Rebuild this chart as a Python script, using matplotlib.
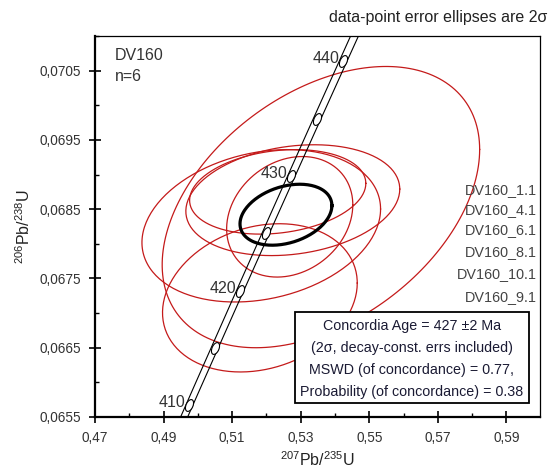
import numpy as np
import matplotlib
matplotlib.use('Agg')
import matplotlib.pyplot as plt
from matplotlib.path import Path
from matplotlib.patches import Rectangle
from matplotlib.ticker import MultipleLocator, FuncFormatter

plt.rcParams['font.family'] = ['Liberation Sans', 'DejaVu Sans']
plt.rcParams['mathtext.fontset'] = 'custom'
plt.rcParams['mathtext.rm'] = 'Liberation Sans'
plt.rcParams['mathtext.it'] = 'Liberation Sans:italic'
plt.rcParams['mathtext.bf'] = 'Liberation Sans:bold'

# spots: 207Pb/235U, 206Pb/238U, 2s half widths, error correlation
spot_names = ['DV160_1.1', 'DV160_4.1', 'DV160_6.1', 'DV160_8.1', 'DV160_10.1', 'DV160_9.1']
x_center = [0.5359, 0.5185, 0.5277, 0.5233, 0.5268, 0.5181]
x_err = [0.0463, 0.0348, 0.0312, 0.0257, 0.0184, 0.0284]
y_center = [0.06853, 0.06826, 0.06863, 0.06875, 0.06839, 0.06722]
y_err = [0.00203, 0.00110, 0.00080, 0.00061, 0.00087, 0.00107]
rho = [0.41, 0.22, 0.20, 0.20, 0.20, 0.20]

# concordia age ellipse
conc_x, conc_xerr = 0.5257, 0.0134
conc_y, conc_yerr = 0.06842, 0.00044
conc_rho = 0.30

# concordia curve
lam238 = 1.55125e-10
lam235 = 9.8485e-10
lam235_err = 0.0017        # relative, for the decay-constant band
marker_ages = [410, 415, 420, 425, 430, 435, 440]
label_ages = [410, 420, 430, 440]

result_lines = ['Concordia Age = 427 \u00b12 Ma',
                '(2\u03c3, decay-const. errs included)',
                'MSWD (of concordance) = 0.77,',
                'Probability (of concordance) = 0.38']

red = '#c41a1a'


def ellipse_xy(cx, cy, sx, sy, r, n=200):
    t = np.linspace(0, 2 * np.pi, n)
    a = np.arccos(r)
    return cx + sx * np.cos(t), cy + sy * np.cos(t + a)


def concordia(t_ma, k=0.0):
    t = np.asarray(t_ma) * 1e6
    return np.exp(lam235 * (1 + k) * t) - 1, np.exp(lam238 * t) - 1


fig = plt.figure(figsize=(5.49, 4.73), dpi=100)
ax = fig.add_axes([0.173, 0.1184, 0.8106, 0.8055])
ax.set_xlim(0.47, 0.5998)
ax.set_ylim(0.0655, 0.0710)

for i in range(len(spot_names)):
    ex, ey = ellipse_xy(x_center[i], y_center[i], x_err[i], y_err[i], rho[i])
    ax.plot(ex, ey, color=red, lw=0.9, zorder=2)

ages = np.linspace(400, 450, 300)
for k in (-lam235_err, lam235_err):
    cxs, cys = concordia(ages, k)
    ax.plot(cxs, cys, color='black', lw=0.8, zorder=3)

ex, ey = ellipse_xy(conc_x, conc_y, conc_xerr, conc_yerr, conc_rho)
ax.plot(ex, ey, color='black', lw=2.3, zorder=5)

# age markers: small ellipses oriented along the curve
for age in marker_ages:
    p0 = ax.transData.transform(np.column_stack(concordia([age - 0.5, age + 0.5])))
    ang = np.arctan2(p0[1, 1] - p0[0, 1], p0[1, 0] - p0[0, 0])
    th = np.linspace(0, 2 * np.pi, 40)
    vx, vy = np.cos(th), 0.55 * np.sin(th)
    rx = vx * np.cos(ang) - vy * np.sin(ang)
    ry = vx * np.sin(ang) + vy * np.cos(ang)
    mk = Path(np.column_stack([rx, ry]), closed=True)
    mx, my = concordia([age])
    ax.plot(mx, my, linestyle='none', marker=mk, markersize=8.5,
            markerfacecolor='white', markeredgecolor='black',
            markeredgewidth=0.8, zorder=4)
    if age in label_ages:
        ax.annotate(str(age), (mx[0], my[0]), xytext=(-3, 2),
                    textcoords='offset points', ha='right', va='center',
                    fontsize=11.5, color='#333333', zorder=4)

# result box
ax.add_patch(Rectangle((0.449, 0.0367), 0.526, 0.239, transform=ax.transAxes,
                       facecolor='white', edgecolor='black', lw=1.3, zorder=10))
for line, yy in zip(result_lines, [0.239, 0.182, 0.123, 0.066]):
    ax.text(0.712, yy, line, transform=ax.transAxes, ha='center', va='center',
            fontsize=10.3, color='#1a1a33', zorder=11)

for name, yy in zip(spot_names, [0.596, 0.543, 0.491, 0.433, 0.375, 0.315]):
    ax.text(0.993, yy, name, transform=ax.transAxes, ha='right', va='center',
            fontsize=10.4, color='#444444', zorder=6)

ax.text(0.045, 0.9475, 'DV160', transform=ax.transAxes, ha='left', va='center',
        fontsize=11.5, color='#333333')
ax.text(0.045, 0.893, 'n=6', transform=ax.transAxes, ha='left', va='center',
        fontsize=11.5, color='#333333')

fig.text(0.996, 0.962, 'data-point error ellipses are 2\u03c3', ha='right',
         va='center', fontsize=11.5, color='#222222')

ax.set_xlabel(r'$^{207}$Pb/$^{235}$U', fontsize=11.5, color='#222222', labelpad=4)
ax.set_ylabel(r'$^{206}$Pb/$^{238}$U', fontsize=11.5, color='#222222', labelpad=5)

ax.xaxis.set_major_locator(MultipleLocator(0.02))
ax.xaxis.set_minor_locator(MultipleLocator(0.01))
ax.yaxis.set_major_locator(MultipleLocator(0.001))
ax.yaxis.set_minor_locator(MultipleLocator(0.0005))
ax.set_xticks(np.arange(0.47, 0.5901, 0.02))
ax.set_yticks(np.arange(0.0655, 0.07051, 0.001))
ax.xaxis.set_major_formatter(FuncFormatter(lambda v, p: f'{v:.2f}'.replace('.', ',')))
ax.yaxis.set_major_formatter(FuncFormatter(lambda v, p: f'{v:.4f}'.replace('.', ',')))
ax.tick_params(which='major', direction='inout', length=8, width=1.2,
               labelsize=9.8, labelcolor='#333333', pad=6)
ax.tick_params(which='minor', direction='in', length=3, width=1.0)

for s in ['left', 'bottom']:
    ax.spines[s].set_linewidth(1.6)
for s in ['top', 'right']:
    ax.spines[s].set_linewidth(0.9)

fig.savefig('out.png', dpi=100)
